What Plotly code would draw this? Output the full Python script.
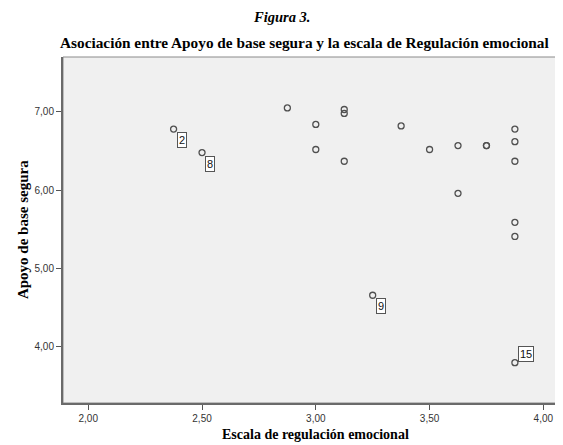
import plotly.graph_objects as go

# Data
reg_emocional = [2.375, 2.5, 2.875, 3.0, 3.0, 3.125, 3.125, 3.125, 3.25, 3.375, 3.5,
                 3.625, 3.625, 3.75, 3.75, 3.875, 3.875, 3.875, 3.875, 3.875, 3.875]
apoyo_base = [6.78, 6.48, 7.05, 6.84, 6.52, 7.03, 6.98, 6.37, 4.66, 6.82, 6.52,
              6.57, 5.96, 6.57, 6.57, 6.78, 6.62, 6.37, 5.59, 5.41, 3.80]
case_x = [2.375, 2.5, 3.25, 3.875]
case_y = [6.78, 6.48, 4.66, 3.80]
case_labels = ["2", "8", "9", "15"]
x_ticks = [2.0, 2.5, 3.0, 3.5, 4.0]
y_ticks = [4.0, 5.0, 6.0, 7.0]

fig = go.Figure()
fig.add_trace(go.Scatter(
    x=reg_emocional, y=apoyo_base, mode="markers",
    marker=dict(symbol="circle-open", size=6, color="#505050", line=dict(width=1.3)),
    showlegend=False, hoverinfo="skip"))

serif = "Liberation Serif, Times New Roman, serif"
sans = "Liberation Sans, Arial, sans-serif"

for cx, cy, lab in zip(case_x, case_y, case_labels):
    above = lab == "15"
    fig.add_annotation(
        x=cx, y=cy, xref="x", yref="y", text=lab, showarrow=False,
        xanchor="left", yanchor="bottom" if above else "top",
        xshift=3, yshift=1 if above else -3,
        font=dict(family=sans, size=11, color="#111"),
        bgcolor="white", bordercolor="#555", borderwidth=1, borderpad=1)

# Titles (placed in paper coordinates)
fig.add_annotation(text="<b><i>Figura 3.</i></b>", xref="paper", yref="paper",
                   x=0.437, y=1.1156, xanchor="center", yanchor="middle",
                   showarrow=False, font=dict(family=serif, size=14.5, color="#000"))
fig.add_annotation(text="<b>Asociación entre Apoyo de base segura y la escala de Regulación emocional</b>",
                   xref="paper", yref="paper", x=-0.01, y=1.0405, xanchor="left", yanchor="middle",
                   showarrow=False, font=dict(family=serif, size=15.3, color="#000"))
fig.add_annotation(text="<b>Escala de regulación emocional</b>", xref="paper", yref="paper",
                   x=0.506, y=-0.0896, xanchor="center", yanchor="middle",
                   showarrow=False, font=dict(family=serif, size=14, color="#000"))
fig.add_annotation(text="<b>Apoyo de base segura</b>", xref="paper", yref="paper",
                   x=-0.080, y=0.5, xanchor="center", yanchor="middle", textangle=-90,
                   showarrow=False, font=dict(family=serif, size=15, color="#000"))

fig.add_shape(type="rect", xref="paper", yref="paper", x0=0, y0=0, x1=1, y1=1,
              line=dict(color="#8a8a8a", width=1), layer="below")

# The page body adds an 8px offset, so the figure is sized to fit the window.
fig.update_layout(
    width=555, height=437,
    margin=dict(l=55, r=1, t=49, b=42, autoexpand=False),
    paper_bgcolor="white", plot_bgcolor="#F0F0F0",
    separators=",.",
    xaxis=dict(range=[1.889, 4.082], tickvals=x_ticks, tickformat=".2f",
               showgrid=False, zeroline=False, automargin=False,
               showline=True, linecolor="#6a6a6a", linewidth=2,
               ticks="outside", ticklen=5, tickcolor="#555", tickwidth=1,
               tickfont=dict(family=sans, size=10, color="#333")),
    yaxis=dict(range=[3.285, 7.70], tickvals=y_ticks, tickformat=".2f",
               showgrid=False, zeroline=False, automargin=False,
               showline=True, linecolor="#6a6a6a", linewidth=2,
               ticks="outside", ticklen=5, tickcolor="#555", tickwidth=1,
               tickfont=dict(family=sans, size=10, color="#333")),
)

fig.write_html("out.html")
